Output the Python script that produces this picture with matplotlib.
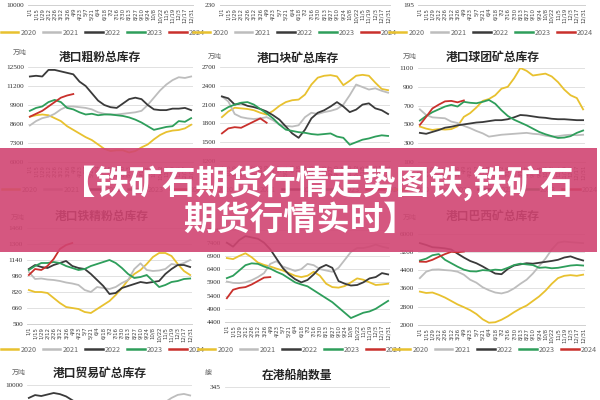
import matplotlib
matplotlib.use('Agg')
import matplotlib.pyplot as plt
import numpy as np
from matplotlib.patches import Rectangle
from matplotlib.lines import Line2D

plt.rcParams['font.family'] = ['Noto Sans CJK SC', 'DejaVu Sans']

W, H = 600, 400

years = ['2020', '2021', '2022', '2023', '2024']
year_colors = ['#E8C12F', '#BDBDBD', '#3A3A3A', '#2E9E5B', '#C9302C']
date_labels = ['1/1', '1/15', '1/29', '2/12', '2/26', '3/12', '3/26', '4/9', '4/23',
               '5/7', '5/21', '6/4', '6/18', '7/2', '7/16', '7/30', '8/13', '8/27',
               '9/10', '9/24', '10/8', '10/22', '11/5', '11/19', '12/3', '12/17', '12/31']

banner_line1 = '【铁矿石期货行情走势图铁,铁矿石'
banner_line2 = '期货行情实时】'

# 港口粗粉总库存
coarse_title = '港口粗粉总库存'
coarse_ticks = [6000, 7300, 8600, 9900, 11200, 12500]
coarse_2020 = [9100, 9200, 9250, 9200, 9000, 8800, 8450, 8200, 7950, 7700, 7500, 7200, 6900, 6750,
               6800, 6800, 6650, 6750, 7000, 7200, 7550, 7850, 8050, 8150, 8190, 8300, 8550]
coarse_2021 = [8500, 8800, 9000, 9100, 9300, 9600, 9800, 9800, 9750, 9700, 9600, 9400, 9300, 9250,
               9250, 9300, 9350, 9400, 9500, 9900, 10400, 10900, 11300, 11600, 11800, 11750, 11850]
coarse_2022 = [11850, 11900, 11850, 12300, 12300, 12200, 12100, 12000, 11500, 11200, 10700, 10200, 9900, 9750,
               9700, 10000, 10300, 10400, 10300, 9900, 9600, 9550, 9550, 9650, 9650, 9700, 9550]
coarse_2023 = [9500, 9700, 9800, 10100, 10250, 10100, 9700, 9600, 9400, 9250, 9300, 9200, 9250, 9250,
               9200, 9150, 9050, 8900, 8700, 8450, 8200, 8300, 8400, 8450, 8800, 8750, 9000]
coarse_2024 = [9100, 9300, 9500, 9800, 10100, 10400, 10550, 10650]

# 港口块矿总库存
lump_title = '港口块矿总库存'
lump_ticks = [1200, 1500, 1800, 2100, 2400, 2700]
lump_2020 = [1900, 1990, 2050, 2040, 2030, 2010, 1970, 1940, 2000, 2080, 2140, 2170, 2180, 2260,
             2420, 2530, 2560, 2570, 2550, 2410, 2480, 2560, 2575, 2560, 2450, 2350, 2330]
lump_2021 = [2230, 2150, 1950, 1900, 1880, 1870, 1880, 1900, 1850, 1780, 1760, 1750, 1770, 1900,
             1970, 1950, 1980, 2000, 2030, 2100, 2250, 2420, 2380, 2340, 2360, 2320, 2290]
lump_2022 = [2230, 2200, 2100, 2120, 2080, 2060, 2030, 1990, 1930, 1860, 1750, 1640, 1570, 1700,
             1880, 1970, 2010, 2070, 2140, 2070, 1980, 2020, 2100, 2120, 2040, 2010, 1950]
lump_2023 = [2000, 2060, 2100, 2130, 2140, 2100, 2030, 1960, 1880, 1780, 1700, 1680, 1660, 1650,
             1630, 1620, 1630, 1640, 1590, 1570, 1460, 1500, 1540, 1560, 1590, 1610, 1600]
lump_2024 = [1640, 1720, 1740, 1730, 1780, 1830, 1880, 1810]

# 港口球团矿总库存
pellet_title = '港口球团矿总库存'
pellet_ticks = [100, 300, 500, 700, 900, 1100]
pellet_2020 = [477, 455, 441, 450, 445, 450, 480, 580, 620, 680, 750, 770, 810, 880,
               900, 990, 1100, 1070, 1020, 1030, 1040, 1010, 950, 870, 810, 780, 660]
pellet_2021 = [660, 600, 575, 570, 565, 530, 515, 485, 460, 430, 405, 370, 380, 390,
               395, 400, 405, 410, 400, 395, 380, 370, 375, 385, 390, 385, 390]
pellet_2022 = [410, 400, 420, 440, 465, 475, 490, 500, 510, 520, 525, 535, 545, 545,
               555, 575, 600, 595, 585, 575, 570, 560, 555, 555, 550, 545, 545]
pellet_2023 = [540, 590, 630, 660, 690, 708, 690, 740, 730, 725, 740, 760, 720, 650,
               590, 550, 520, 490, 455, 420, 395, 375, 356, 360, 375, 410, 435]
pellet_2024 = [495, 580, 670, 710, 745, 750, 735, 755]

# 港口铁精粉总库存
conc_title = '港口铁精粉总库存'
conc_ticks = [500, 660, 820, 980, 1140, 1300, 1460]
conc_2020 = [840, 820, 820, 810, 760, 710, 670, 660, 650, 620, 610, 650, 690, 730,
             790, 860, 940, 1000, 1040, 1100, 1170, 1210, 1210, 1180, 1100, 1030, 990]
conc_2021 = [1020, 950, 955, 945, 940, 930, 915, 905, 890, 840, 820, 870, 860, 850,
             870, 910, 940, 1050, 1107, 1040, 1030, 1035, 1050, 1100, 1090, 1110, 1140]
conc_2022 = [1050, 1090, 1070, 1060, 1090, 1110, 1130, 1080, 1060, 1050, 1000, 940, 880, 800,
             810, 860, 880, 900, 920, 910, 920, 930, 1000, 1050, 1090, 1090, 1070]
conc_2023 = [1040, 1080, 1110, 1110, 1120, 1110, 1080, 1060, 1040, 1050, 1080, 1100, 1120, 1140,
             1110, 1060, 1000, 960, 970, 990, 930, 870, 890, 920, 930, 950, 955]
conc_2024 = [990, 1050, 1040, 1080, 1150, 1250, 1290, 1310]

# middle chart of the second row (title hidden by the banner)
mid_ticks = [4400, 4900, 5400, 5900, 6400, 6900, 7400, 7900]
mid_2020 = [6820, 6780, 6900, 7000, 6850, 6650, 6560, 6500, 6420, 6350, 6250, 6150, 6100, 6150,
            6300, 6150, 5850, 5720, 5700, 5760, 5900, 6050, 6000, 5900, 5800, 5820, 5850]
mid_2021 = [5930, 5880, 5870, 5900, 5980, 6100, 6250, 6600, 6700, 6500, 6420, 6330, 6400, 6600,
            6550, 6400, 6350, 6300, 6450, 6750, 7050, 7200, 7200, 7250, 7330, 7250, 7200]
mid_2022 = [7400, 7250, 7500, 7650, 7600, 7550, 7400, 7150, 6800, 6450, 6200, 6020, 5900, 5990,
            6200, 6450, 6560, 6450, 5950, 5850, 5780, 5800, 5900, 6050, 6100, 6250, 6200]
mid_2023 = [6060, 6150, 6350, 6550, 6620, 6600, 6500, 6420, 6300, 6200, 6050, 5900, 5820, 5750,
            5600, 5450, 5300, 5150, 4950, 4750, 4550, 4650, 4750, 4800, 4900, 5050, 5200]
mid_2024 = [5300, 5620, 5690, 5720, 5820, 5950, 6080, 6100]

# 港口巴西矿总库存
brazil_title = '港口巴西矿总库存'
brazil_ticks = [2000, 2800, 3600, 4400, 5200, 6000]
brazil_2020 = [3460, 3400, 3420, 3320, 3200, 3050, 2900, 2780, 2650, 2480, 2250, 2100, 2120, 2230,
               2380, 2560, 2720, 2850, 3050, 3250, 3500, 3800, 4050, 4150, 4180, 4150, 4200]
brazil_2021 = [4050, 4330, 4420, 4430, 4400, 4380, 4330, 4200, 3980, 3850, 3650, 3520, 3420, 3380,
               3450, 3600, 3800, 3980, 4250, 4580, 4900, 5300, 5600, 5650, 5620, 5600, 5580]
brazil_2022 = [5580, 5500, 5400, 5380, 5350, 5300, 5120, 4950, 4800, 4700, 4560, 4400, 4250, 4220,
               4450, 4600, 4650, 4700, 4680, 4720, 4760, 4800, 4850, 4950, 5000, 4900, 4820]
brazil_2023 = [4820, 4900, 5050, 5100, 4850, 4700, 4550, 4420, 4350, 4340, 4400, 4380, 4420, 4400,
               4500, 4620, 4680, 4650, 4620, 4500, 4520, 4480, 4500, 4550, 4600, 4620, 4600]
brazil_2024 = [4770, 4760, 4850, 4980, 5100, 5200, 5180, 5210]

# 港口贸易矿总库存 (only the top is visible)
trade_title = '港口贸易矿总库存'
trade_ticks = [6000, 7000, 8000, 9000, 10000]
trade_2021_idx = [22, 23, 24, 25, 26]
trade_2021 = [9100, 9320, 9480, 9530, 9450]
trade_2022_idx = [0, 1, 2, 3, 4, 5, 6, 7, 8]
trade_2022 = [9320, 9470, 9420, 9500, 9580, 9520, 9400, 9200, 9000]

# 在港船舶数量 (only the top is visible)
ship_title = '在港船舶数量'
ship_ticks = [145, 195, 245, 295, 345]

# bottoms of the charts above the visible area
top_row_ticks = [10000, 230, 195]

fig = plt.figure(figsize=(6, 4), dpi=100)
fig.patch.set_facecolor('white')


def add_ax(x0, x1, ytop, ybot):
    return fig.add_axes([x0 / W, 1 - ybot / H, (x1 - x0) / W, (ybot - ytop) / H])


def style(ax, ticks, show_x=True, label_top_only=False):
    for s in ['top', 'right', 'left']:
        ax.spines[s].set_visible(False)
    ax.spines['bottom'].set_color('#d0d0d0')
    ax.spines['bottom'].set_linewidth(0.7)
    ax.set_xlim(-0.3, 26.3)
    ax.set_ylim(ticks[0], ticks[-1])
    ax.set_yticks(ticks)
    if label_top_only:
        labels = [''] * (len(ticks) - 1) + [str(ticks[-1])]
    else:
        labels = [str(t) for t in ticks]
    ax.set_yticklabels(labels, fontsize=5.2,
                       family=['Liberation Serif', 'DejaVu Serif'], color='#333333')
    ax.tick_params(axis='y', length=0, pad=3)
    ax.grid(axis='y', color='#dcdcdc', lw=0.6)
    ax.set_axisbelow(True)
    ax.set_xticks(range(len(date_labels)))
    if show_x:
        ax.set_xticklabels(date_labels, rotation=90, fontsize=3.9, color='#444444',
                           family=['DejaVu Sans'])
    else:
        ax.set_xticklabels([])
    ax.tick_params(axis='x', length=0, pad=2)
    ax.patch.set_alpha(0)


def legend_at(cx, cy):
    handles = [Line2D([], [], color=c, lw=1.8) for c in year_colors]
    fig.legend(handles, years, loc='center', bbox_to_anchor=(cx / W, 1 - cy / H),
               ncol=5, frameon=False, fontsize=5.2, handlelength=2.4, handletextpad=0.3,
               columnspacing=0.9, labelcolor='#666666')


def draw_series(ax, series):
    for vals, c in zip(series, year_colors):
        ax.plot(range(len(vals)), vals, color=c, lw=1.3, solid_joinstyle='round')


def titles(x_unit, y_unit, unit, x_title, y_title, title):
    fig.text(x_unit / W, 1 - y_unit / H, unit, fontsize=5, color='#666666', ha='center', va='center')
    fig.text(x_title / W, 1 - y_title / H, title, fontsize=8.5, color='#262626',
             ha='center', va='center', fontweight='bold')


# ---- top row (cut-off charts) ----
top_cols = [(28, 193, 108), (220, 390, 300), (418, 585, 496)]
for (x0, x1, cx), t in zip(top_cols, top_row_ticks):
    ax = add_ax(x0, x1, -80, 5)
    style(ax, [t, t * 2])
    ax.set_yticks([t])
    ax.set_yticklabels([str(t)], fontsize=5.2, family=['Liberation Serif', 'DejaVu Serif'])
    legend_at(cx - 5, 33)

# ---- second row ----
ax = add_ax(28, 193, 67, 162)
style(ax, coarse_ticks)
draw_series(ax, [coarse_2020, coarse_2021, coarse_2022, coarse_2023, coarse_2024])
titles(20, 53, '万吨', 100, 57, coarse_title)
legend_at(104, 190)

ax = add_ax(220, 390, 67, 161)
style(ax, lump_ticks)
draw_series(ax, [lump_2020, lump_2021, lump_2022, lump_2023, lump_2024])
titles(215, 57, '万吨', 298, 58, lump_title)
legend_at(300, 190)

ax = add_ax(418, 585, 68, 162)
style(ax, pellet_ticks)
draw_series(ax, [pellet_2020, pellet_2021, pellet_2022, pellet_2023, pellet_2024])
titles(410, 57, '万吨', 493, 57, pellet_title)
legend_at(496, 190)

# ---- third row ----
ax = add_ax(27, 192, 228, 324)
style(ax, conc_ticks)
draw_series(ax, [conc_2020, conc_2021, conc_2022, conc_2023, conc_2024])
titles(18, 218, '万吨', 102, 216, conc_title)
legend_at(103, 350)

ax = add_ax(225, 390, 229.5, 322)
style(ax, mid_ticks)
draw_series(ax, [mid_2020, mid_2021, mid_2022, mid_2023, mid_2024])
legend_at(300, 350)

ax = add_ax(418, 585, 233.5, 325)
style(ax, brazil_ticks)
draw_series(ax, [brazil_2020, brazil_2021, brazil_2022, brazil_2023, brazil_2024])
titles(410, 218, '万吨', 493, 216, brazil_title)
legend_at(495, 350)

# ---- bottom row (cut) ----
ax = add_ax(27, 192, 385, 461)
style(ax, trade_ticks, show_x=False, label_top_only=True)
ax.plot(trade_2021_idx, trade_2021, color=year_colors[1], lw=1.3)
ax.plot(trade_2022_idx, trade_2022, color=year_colors[2], lw=1.3)
titles(19, 373, '万吨', 100, 373, trade_title)

ax = add_ax(225, 390, 387, 470)
style(ax, ship_ticks, show_x=False, label_top_only=True)
titles(208, 373, '艘', 297, 375, ship_title)

# ---- banner ----
fig.add_artist(Rectangle((0, 1 - 252 / H), 597 / W, (252 - 148) / H, transform=fig.transFigure,
                         facecolor='#D14572', alpha=0.9, edgecolor='none', zorder=20))
fig.text(318 / W, 1 - 183 / H, banner_line1, fontsize=24, color='white', fontweight='heavy',
         ha='center', va='center', zorder=21)
fig.text(300 / W, 1 - 220 / H, banner_line2, fontsize=24, color='white', fontweight='heavy',
         ha='center', va='center', zorder=21)

fig.savefig('out.png', dpi=100, facecolor='white')
